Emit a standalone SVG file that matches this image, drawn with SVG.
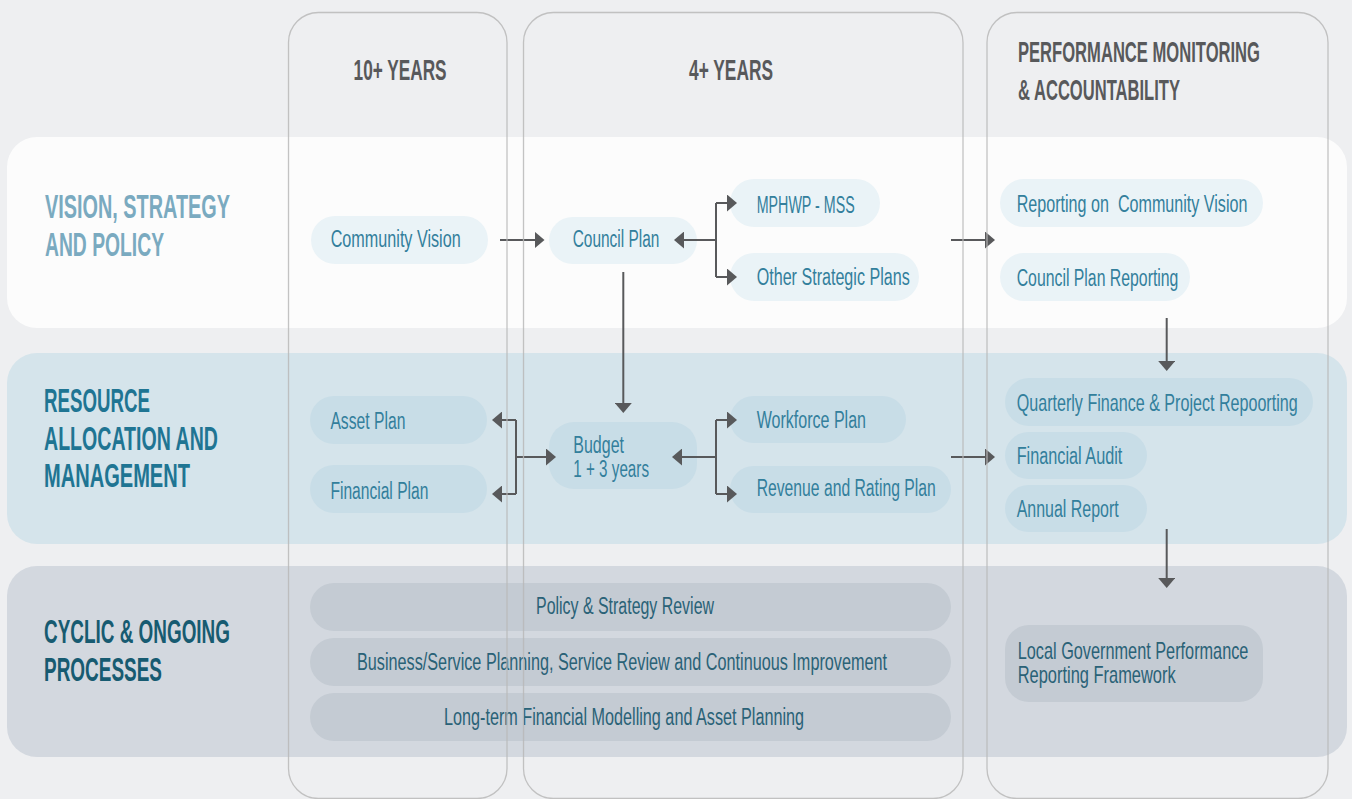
<svg xmlns="http://www.w3.org/2000/svg" width="1352" height="799" viewBox="0 0 1352 799">
<defs>
<marker id="ah" markerUnits="userSpaceOnUse" markerWidth="10" markerHeight="17" refX="7" refY="8.5" orient="auto" viewBox="0 0 10 17">
<path d="M0,0 L10,8.5 L0,17 Z" fill="#58595B"/>
</marker>
<style>
.bg{fill:#EEEFF1}
.row1{fill:#FCFCFC}
.row2{fill:#D5E4EB}
.row3{fill:#D3D8DF}
.col{fill:none;stroke:#B9B9B9;stroke-width:1.3;stroke-opacity:0.85}
.p1{fill:#EAF3F7}
.p2{fill:#C8DDE7}
.p3{fill:#C4CBD3}
.h{font-family:"Liberation Sans",Arial,sans-serif;font-weight:bold}
.hc{font-size:29px;fill:#58595B}
.hr{font-size:33px}
.t{font-family:"Liberation Sans",Arial,sans-serif;font-size:23px;fill:#337F9C}
.t3{fill:#2A6277}
.c{fill:none;stroke:#58595B;stroke-width:2}
.a{marker-end:url(#ah)}
</style>
</defs>
<rect class="bg" x="0" y="0" width="1352" height="799"/>

<g id="rows">
<rect id="row-vision" class="row1" x="7" y="137" width="1340" height="191" rx="30"/>
<rect id="row-resource" class="row2" x="7" y="353" width="1340" height="191" rx="30"/>
<rect id="row-cyclic" class="row3" x="7" y="566" width="1340" height="191" rx="30"/>
</g>

<g id="row-labels">
<g id="label-vision" class="h hr" fill="#7AAAC0">
<text x="45" y="218" textLength="185" lengthAdjust="spacingAndGlyphs">VISION, STRATEGY</text>
<text x="45" y="256" textLength="119" lengthAdjust="spacingAndGlyphs">AND POLICY</text>
</g>
<g id="label-resource" class="h hr" fill="#1F7593">
<text x="44" y="412" textLength="106" lengthAdjust="spacingAndGlyphs">RESOURCE</text>
<text x="44" y="450" textLength="174" lengthAdjust="spacingAndGlyphs">ALLOCATION AND</text>
<text x="44" y="487" textLength="146" lengthAdjust="spacingAndGlyphs">MANAGEMENT</text>
</g>
<g id="label-cyclic" class="h hr" fill="#175B71">
<text x="44" y="643" textLength="186" lengthAdjust="spacingAndGlyphs">CYCLIC &amp; ONGOING</text>
<text x="44" y="681" textLength="118" lengthAdjust="spacingAndGlyphs">PROCESSES</text>
</g>
</g>

<g id="column-headers">
<text class="h hc" x="353.6" y="80" textLength="93" lengthAdjust="spacingAndGlyphs">10+ YEARS</text>
<text class="h hc" x="689" y="80" textLength="84" lengthAdjust="spacingAndGlyphs">4+ YEARS</text>
<text class="h hc" transform="translate(1018,62) scale(0.65,1)" x="0" y="0" textLength="372.3" lengthAdjust="spacingAndGlyphs">PERFORMANCE MONITORING</text>
<text class="h hc" transform="translate(1018,99.5) scale(0.65,1)" x="0" y="0" textLength="249.2" lengthAdjust="spacingAndGlyphs">&amp; ACCOUNTABILITY</text>
</g>

<g id="n-community-vision"><rect class="p1" x="311" y="216" width="177" height="48" rx="24"/><text class="t" x="330.7" y="247" textLength="130" lengthAdjust="spacingAndGlyphs">Community Vision</text></g>
<g id="n-council-plan"><rect class="p1" x="549" y="217" width="148" height="47" rx="23.5"/><text class="t" x="572.7" y="246.7" textLength="86.7" lengthAdjust="spacingAndGlyphs">Council Plan</text></g>
<g id="n-mphwp"><rect class="p1" x="730" y="179" width="150" height="48" rx="24"/><text class="t" x="756.7" y="212.7" textLength="98" lengthAdjust="spacingAndGlyphs">MPHWP - MSS</text></g>
<g id="n-other-strategic"><rect class="p1" x="730" y="253" width="189" height="48" rx="24"/><text class="t" x="756.7" y="285" textLength="153" lengthAdjust="spacingAndGlyphs">Other Strategic Plans</text></g>
<g id="n-reporting-cv"><rect class="p1" x="1000" y="179" width="263" height="48" rx="24"/><text class="t" x="1016.7" y="212.3" textLength="230.7" lengthAdjust="spacingAndGlyphs">Reporting on&#160; Community Vision</text></g>
<g id="n-council-plan-reporting"><rect class="p1" x="1000" y="253" width="190" height="48" rx="24"/><text class="t" x="1016.7" y="286" textLength="161.7" lengthAdjust="spacingAndGlyphs">Council Plan Reporting</text></g>

<g id="n-asset-plan"><rect class="p2" x="310" y="396" width="177" height="48" rx="24"/><text class="t" x="330.4" y="429" textLength="75" lengthAdjust="spacingAndGlyphs">Asset Plan</text></g>
<g id="n-financial-plan"><rect class="p2" x="310" y="465" width="177" height="48" rx="24"/><text class="t" x="330.4" y="499.3" textLength="98" lengthAdjust="spacingAndGlyphs">Financial Plan</text></g>
<g id="n-budget"><rect class="p2" x="549" y="422" width="148" height="67" rx="25"/><text class="t"><tspan x="573.3" y="452.7" textLength="50.7" lengthAdjust="spacingAndGlyphs">Budget</tspan><tspan x="573.3" y="476.7" textLength="75.7" lengthAdjust="spacingAndGlyphs">1 + 3 years</tspan></text></g>
<g id="n-workforce"><rect class="p2" x="730" y="396" width="176" height="47" rx="23.5"/><text class="t" x="756.7" y="428.3" textLength="109.3" lengthAdjust="spacingAndGlyphs">Workforce Plan</text></g>
<g id="n-revenue"><rect class="p2" x="730" y="466" width="221" height="47" rx="23.5"/><text class="t" x="756.7" y="495.7" textLength="179" lengthAdjust="spacingAndGlyphs">Revenue and Rating Plan</text></g>
<g id="n-quarterly"><rect class="p2" x="1005" y="378" width="308" height="48" rx="24"/><text class="t" transform="translate(1016.7,410.7) scale(0.7,1)" x="0" y="0" textLength="401.4" lengthAdjust="spacingAndGlyphs">Quarterly Finance &amp; Project Repoorting</text></g>
<g id="n-financial-audit"><rect class="p2" x="1005" y="432" width="142" height="47" rx="23.5"/><text class="t" x="1016.7" y="464" textLength="105.7" lengthAdjust="spacingAndGlyphs">Financial Audit</text></g>
<g id="n-annual-report"><rect class="p2" x="1005" y="485" width="142" height="47" rx="23.5"/><text class="t" x="1016.7" y="516.7" textLength="102" lengthAdjust="spacingAndGlyphs">Annual Report</text></g>

<g id="n-policy-review"><rect class="p3" x="310" y="583" width="641" height="48" rx="24"/><text class="t t3" x="536" y="614.3" textLength="178" lengthAdjust="spacingAndGlyphs">Policy &amp; Strategy Review</text></g>
<g id="n-business-planning"><rect class="p3" x="310" y="638" width="641" height="48" rx="24"/><text class="t t3" x="357" y="670" textLength="530" lengthAdjust="spacingAndGlyphs">Business/Service Planning, Service Review and Continuous Improvement</text></g>
<g id="n-financial-modelling"><rect class="p3" x="310" y="693" width="641" height="48" rx="24"/><text class="t t3" x="444" y="725" textLength="360" lengthAdjust="spacingAndGlyphs">Long-term Financial Modelling and Asset Planning</text></g>
<g id="n-lgprf"><rect class="p3" x="1005" y="625" width="258" height="77" rx="24"/><text class="t t3" transform="translate(1017.7,659.3) scale(0.7,1)" x="0" y="0" textLength="329.6" lengthAdjust="spacingAndGlyphs">Local Government Performance</text><text class="t t3" transform="translate(1017.7,683.3) scale(0.7,1)" x="0" y="0" textLength="225.7" lengthAdjust="spacingAndGlyphs">Reporting Framework</text></g>

<g id="connectors">
<path class="c a" d="M500,240 H541.5"/>
<path class="c" d="M716,203 V277"/>
<path class="c a" d="M716,240 H677"/>
<path class="c a" d="M716,203 H734"/>
<path class="c a" d="M716,277 H734"/>
<path class="c a" d="M951,240 H992"/>
<path class="c a" d="M623.3,272 V410"/>
<path class="c a" d="M1166.7,318 V368"/>
<path class="c" d="M516,420 V494"/>
<path class="c a" d="M516,457 H553"/>
<path class="c a" d="M516,420 H495"/>
<path class="c a" d="M516,494 H495"/>
<path class="c" d="M716,420 V494"/>
<path class="c a" d="M716,457 H675"/>
<path class="c a" d="M716,420 H734"/>
<path class="c a" d="M716,494 H734"/>
<path class="c a" d="M951,457 H992"/>
<path class="c a" d="M1166.7,529 V585"/>
</g>

<g id="columns">
<rect id="col-10-years" class="col" x="288.5" y="12.5" width="218.5" height="786" rx="30"/>
<rect id="col-4-years" class="col" x="523.5" y="12.5" width="439.5" height="786" rx="30"/>
<rect id="col-performance" class="col" x="987" y="12.5" width="341" height="786" rx="30"/>
</g>
</svg>
